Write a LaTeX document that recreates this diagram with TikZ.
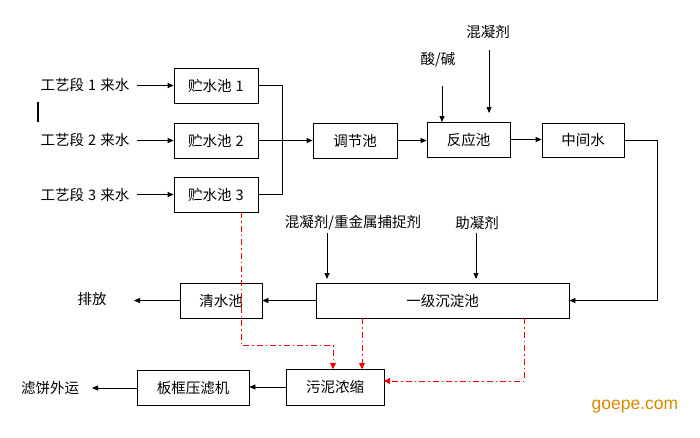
\documentclass[tikz,border=0pt]{standalone}
\usepackage{fontspec}
\setmainfont{Noto Sans CJK SC}
\newfontfamily\latinfont{Liberation Sans}
\usetikzlibrary{arrows.meta}
\definecolor{wmorange}{RGB}{217,138,0}
\newcommand{\gapsp}{\hspace{4pt}}
\tikzset{
  box/.style={draw, line width=0.8pt, minimum height=35pt, inner sep=0pt, font=\fontsize{14.5}{17}\selectfont},
  lbl/.style={inner sep=0pt, font=\fontsize{14.5}{17}\selectfont},
  flow/.style={line width=0.8pt, -{Triangle[length=6pt,width=5pt]}},
  plain/.style={line width=0.8pt},
  sludge/.style={red, line width=0.8pt, dash pattern=on 6pt off 3pt on 1.5pt off 3pt, -{Triangle[length=6pt,width=6pt]}}
}
\begin{document}
\begin{tikzpicture}[x=1pt,y=-1pt]
\useasboundingbox (0,0) rectangle (700,437);
% storage tanks
\node[box, minimum width=84pt] (s1) at (216,85.5) {贮水池\gapsp 1};
\node[box, minimum width=84pt] (s2) at (216,140.5) {贮水池\gapsp 2};
\node[box, minimum width=84pt] (s3) at (216,194.5) {贮水池\gapsp 3};
\node[lbl] (in1) at (85,85) {工艺段\gapsp 1\gapsp 来水};
\node[lbl] (in2) at (85,140) {工艺段\gapsp 2\gapsp 来水};
\node[lbl] (in3) at (85,195) {工艺段\gapsp 3\gapsp 来水};
\coordinate (a1) at (137,85.5);
\coordinate (a2) at (137,140.5);
\coordinate (a3) at (137,194.5);
\draw[flow] (a1) -- (s1.west);
\draw[flow] (a2) -- (s2.west);
\draw[flow] (a3) -- (s3.west);
% cursor bar
\coordinate (cur1) at (38,102);
\coordinate (cur2) at (38,122);
\draw[line width=2pt] (cur1) -- (cur2);
% main line
\node[box, minimum width=84pt] (tj) at (355,140.5) {调节池};
\node[box, minimum width=83pt] (fy) at (468.5,139.5) {反应池};
\node[box, minimum width=82pt, minimum height=34pt] (zj) at (583,140) {中间水};
\coordinate (j) at (282,140.5);
\draw[plain] (s1.east) -| (j);
\draw[plain] (s3.east) -| (j);
\draw[flow] (s2.east) -- (tj.west);
\draw[flow] (tj.east) -- (fy.west |- tj.east);
\draw[flow] (fy.east) -- (zj.west |- fy.east);
% chemicals
\node[lbl] (sj) at (438,60) {酸/碱};
\coordinate (sj1) at (442,86);
\coordinate (sj2) at (442,122);
\draw[flow] (sj1) -- (sj2);
\node[lbl] (hnj) at (488,32) {混凝剂};
\coordinate (hn1) at (489,50);
\coordinate (hn2) at (489,113);
\draw[flow] (hn1) -- (hn2);
% settling
\node[box, minimum width=253pt] (cd) at (442.5,300.5) {一级沉淀池};
\node[box, minimum width=82pt] (qs) at (221,300.5) {清水池};
\coordinate (r1) at (657,140);
\coordinate (r2) at (657,300.5);
\draw[plain] (zj.east) -- (r1) -- (r2);
\draw[flow] (r2) -- (cd.east);
\draw[flow] (cd.west) -- (qs.east);
\node[lbl] (pf) at (92,299) {排放};
\coordinate (pfa) at (134,300.5);
\draw[flow] (qs.west) -- (pfa);
\node[lbl] (hz) at (353,223) {混凝剂/重金属捕捉剂};
\node[lbl] (zn) at (477,223) {助凝剂};
\coordinate (hz1) at (327,233);
\coordinate (hz2) at (327,279);
\coordinate (zn1) at (476,233);
\coordinate (zn2) at (476,279);
\draw[flow] (hz1) -- (hz2);
\draw[flow] (zn1) -- (zn2);
% sludge
\node[box, minimum width=98pt, minimum height=36pt] (wn) at (335,387) {污泥浓缩};
\node[box, minimum width=112pt] (bk) at (193,388) {板框压滤机};
\draw[flow] (wn.west) -- (bk.east |- wn.west);
\node[lbl] (lb) at (50,388) {滤饼外运};
\coordinate (lba) at (92,388);
\draw[flow] (bk.west) -- (lba);
% red sludge lines
\coordinate (p1) at (241,212);
\coordinate (p2) at (241,345);
\coordinate (p3) at (333,345);
\coordinate (p4) at (333,369);
\draw[sludge] (p1) -- (p2) -- (p3) -- (p4);
\coordinate (q1) at (362,318);
\coordinate (q2) at (362,369);
\draw[sludge] (q1) -- (q2);
\coordinate (t1) at (524,318);
\coordinate (t2) at (524,381);
\coordinate (t3) at (384,381);
\draw[sludge] (t1) -- (t2) -- (t3);
% watermark
\node[inner sep=0pt, text=wmorange, font=\latinfont\fontsize{17.5}{20}\selectfont] (wm) at (635,407) {goepe.com};
\end{tikzpicture}
\end{document}
